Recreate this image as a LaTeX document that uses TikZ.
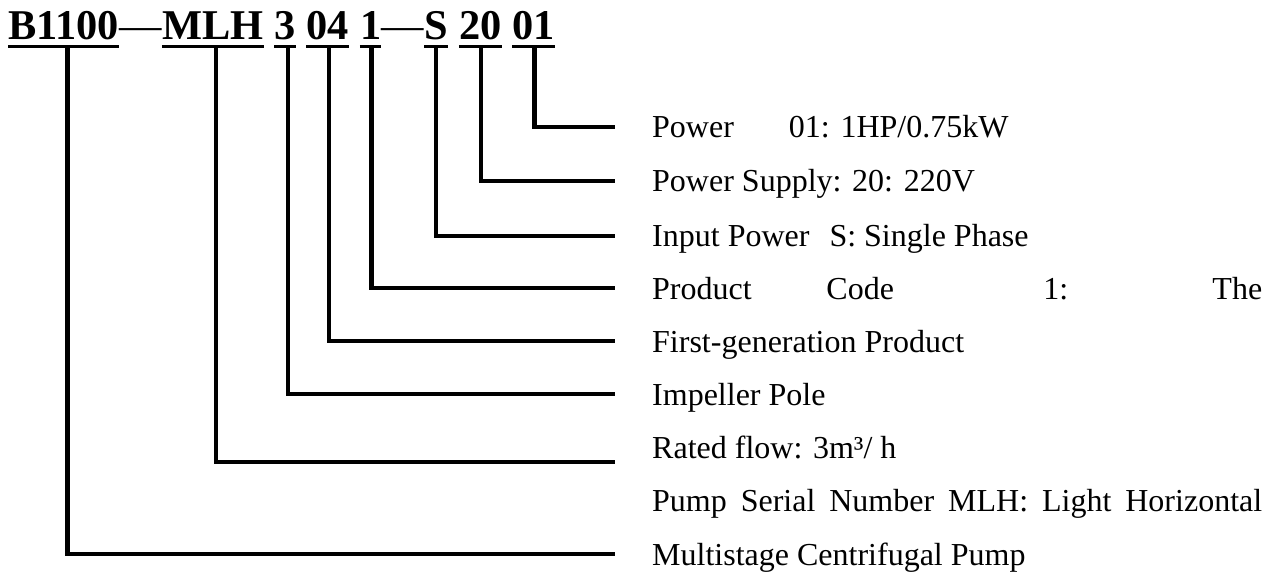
\documentclass[tikz,border=0pt]{standalone}
\usepackage{fontspec}
\setmainfont{Liberation Serif}
\usepackage{tikz}
\usetikzlibrary{positioning}
\tikzset{
code/.style={
inner sep=0pt,
font=\fontsize{42.4}{48}\selectfont\bfseries
},
descr/.style={
inner sep=0pt,
anchor=west,
text height=22pt,
text depth=0pt,
font=\fontsize{32}{38}\selectfont
},
lead/.style={
line width=4.5pt
},
uline/.style={
line width=3pt
}
}

\begin{document}
\begin{tikzpicture}[x=1pt,y=-1pt]
\useasboundingbox (0,0) rectangle (1264,572);

% model code
\node[code,anchor=base west] (b1100) at (8,40) {B1100};
\node[code,base right=0pt of b1100] (d1) {\mdseries —};
\node[code,base right=0pt of d1] (mlh) {MLH};
\node[code,base right=10.6pt of mlh] (n3) {3};
\node[code,base right=10.6pt of n3] (n04) {04};
\node[code,base right=10.6pt of n04] (n1) {1};
\node[code,base right=0pt of n1] (d2) {\mdseries —};
\node[code,base right=0pt of d2] (s) {S};
\node[code,base right=10.6pt of s] (n20) {20};
\node[code,base right=10.6pt of n20] (n01) {01};

\foreach \c in {b1100,mlh,n3,n04,n1,s,n20,n01}
\draw[uline]([yshift=-7pt]\c.base west)--([yshift=-7pt]\c.base east);

% meanings
\node[descr] (power) at (652,127) {Power\hspace{55pt}01: 1HP/0.75kW};
\node[descr] (supply) at (652,181) {Power Supply: 20: 220V};
\node[descr] (input) at (652,236) {Input Power\hspace{20pt}S: Single Phase};
\node[descr] (prodcode) at (652,288) {\makebox[610pt][s]{Product Code \ 1: The}};
\node[descr] (firstgen) at (652,341) {First-generation Product};
\node[descr] (impeller) at (652,394) {Impeller Pole};
\node[descr] (rated) at (652,447) {Rated flow: 3m³/ h};
\node[descr] (serial) at (652,500) {\makebox[610pt][s]{Pump Serial Number MLH: Light Horizontal}};
\node[descr] (multi) at (652,554) {Multistage Centrifugal Pump};

\foreach \x/\y/\dx in {n01/power/1,n20/supply/1,s/input/0,n1/prodcode/1,n04/firstgen/1,n3/impeller/3,b1100/multi/4}
\draw[lead]([xshift=\dx pt,yshift=-7pt]\x.base)|-([xshift=-37pt]\y.west);

\draw[lead]([xshift=3pt,yshift=-7pt]mlh.base)|-([xshift=-37pt,yshift=-15pt]rated.west);
\end{tikzpicture}
\end{document}
